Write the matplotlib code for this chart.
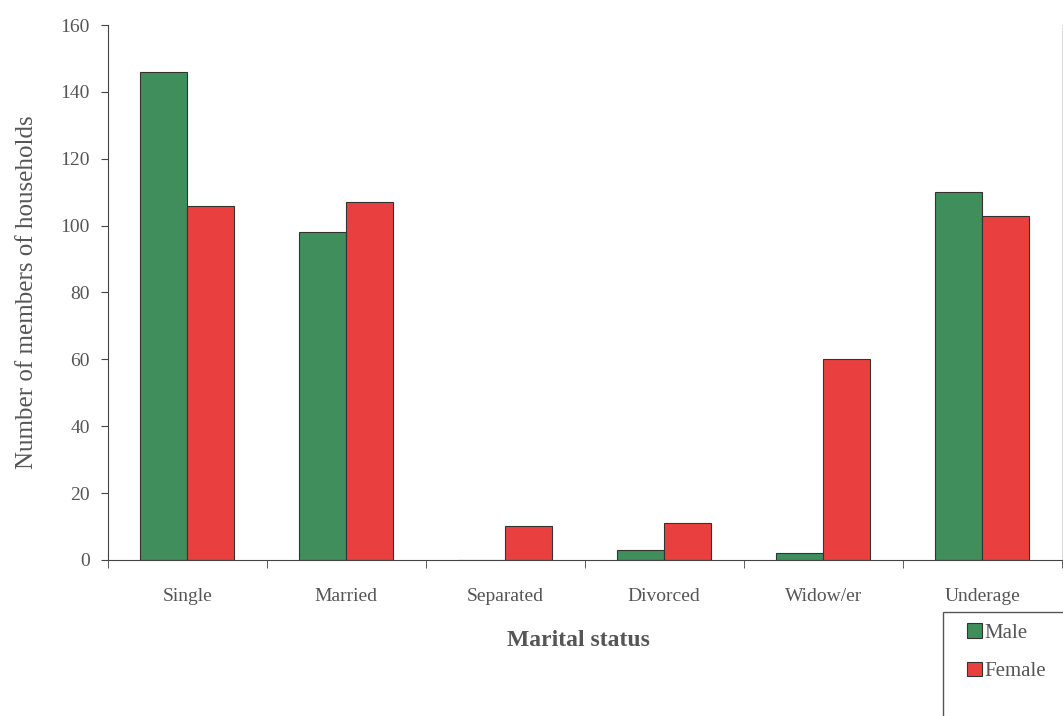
import numpy as np
import matplotlib.pyplot as plt
from matplotlib.patches import Rectangle

categories = ['Single', 'Married', 'Separated', 'Divorced', 'Widow/er', 'Underage']
male = [146, 98, 0, 3, 2, 110]
female = [106, 107, 10, 11, 60, 103]

GREEN = '#3f8e5c'
RED = '#e9403f'
TEXT = '#555555'

plt.rcParams['font.family'] = ['Liberation Serif', 'DejaVu Serif']

fig = plt.figure(figsize=(10.63, 7.16), dpi=100)
ax = fig.add_axes([0.1016, 0.218, 0.897, 0.747])

x = np.arange(len(categories))
w = 0.296
ax.bar(x - w / 2, male, w, color=GREEN, edgecolor='#333333', linewidth=0.8, label='Male')
ax.bar(x + w / 2, female, w, color=RED, edgecolor='#333333', linewidth=0.8, label='Female')

ax.set_xlim(-0.5, len(categories) - 0.5)
ax.set_ylim(0, 160)
ax.set_yticks(np.arange(0, 161, 20))
ax.set_xticks(x)
ax.set_xticklabels(categories)
ax.set_xticks(np.arange(-0.5, len(categories)), minor=True)
ax.tick_params(axis='x', which='major', length=0, pad=20, labelsize=14, labelcolor=TEXT)
ax.tick_params(axis='x', which='minor', length=6, direction='out', color='#444444')
ax.tick_params(axis='y', length=5, direction='out', labelsize=14, labelcolor=TEXT,
               color='#444444', pad=8)

ax.spines['top'].set_visible(False)
ax.spines['right'].set_color('#dddddd')
ax.spines['left'].set_color('#444444')
ax.spines['bottom'].set_color('#444444')

ax.set_ylabel('Number of members of households', fontsize=18, color=TEXT, labelpad=16)
fig.text(0.544, 0.106, 'Marital status', fontsize=17, fontweight='bold', color=TEXT,
         ha='center', va='center')

# legend box runs off the lower right corner of the figure
fig.patches.append(Rectangle((0.887, -0.05), 0.2, 0.195, transform=fig.transFigure,
                             fill=False, edgecolor='#555555', linewidth=1.0))
leg = fig.legend(loc='upper left', bbox_to_anchor=(0.898, 0.147), fontsize=15,
                 frameon=False, handlelength=0.7, handleheight=0.7, handletextpad=0.15,
                 labelspacing=0.9, borderpad=0.6, borderaxespad=0)
for t in leg.get_texts():
    t.set_color(TEXT)

fig.savefig('out.png', dpi=100)
